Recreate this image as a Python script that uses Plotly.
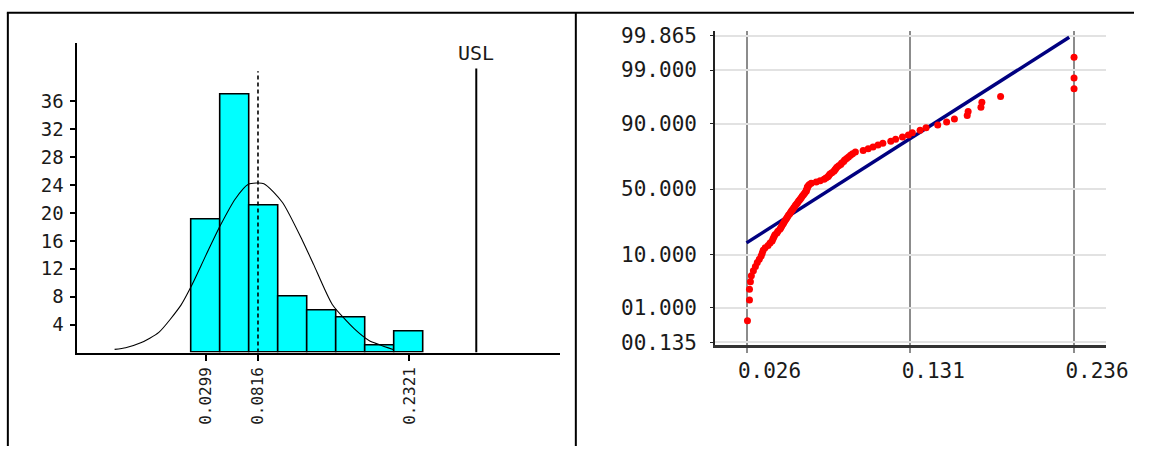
import plotly.graph_objects as go
from statistics import NormalDist

# ---------------- data ----------------
hist_centers = [0.0299, 0.0588, 0.0877, 0.1166, 0.1455, 0.1743, 0.2032, 0.2321]
hist_counts = [19, 37, 21, 8, 6, 5, 1, 3]
bin_width = 0.02889
mean_value = 0.0816
usl_value = 0.2987
hist_tick_vals = [0.0299, 0.0816, 0.2321]
hist_tick_text = ["0.0299", "0.0816", "0.2321"]
hist_y_ticks = [4, 8, 12, 16, 20, 24, 28, 32, 36]

curve_x = [-0.061, -0.050, -0.035, -0.017, 0.005, 0.0156, 0.030, 0.0445, 0.059,
           0.072, 0.0875, 0.106, 0.126, 0.137, 0.1555, 0.1775, 0.192, 0.216]
curve_y = [0.46, 0.7, 1.4, 2.9, 6.8, 9.6, 14.0, 18.3, 22.0,
           24.1, 24.2, 21.5, 16.0, 12.6, 6.9, 3.4, 1.75, 0.46]

sample_values = [
    0.0266, 0.0279, 0.0279, 0.0285, 0.0291, 0.0304, 0.0317, 0.0329, 0.0342, 0.0354,
    0.0361, 0.0367, 0.0379, 0.0398, 0.0411, 0.0424, 0.0430, 0.0436, 0.0442, 0.0455,
    0.0461, 0.0474, 0.0480, 0.0486, 0.0493, 0.0499, 0.0505, 0.0512, 0.0518, 0.0524,
    0.0530, 0.0537, 0.0543, 0.0549, 0.0556, 0.0562, 0.0568, 0.0574, 0.0581, 0.0587,
    0.0593, 0.0600, 0.0606, 0.0612, 0.0618, 0.0625, 0.0631, 0.0637, 0.0644, 0.0644,
    0.0650, 0.0650, 0.0656, 0.0663, 0.0675, 0.0707, 0.0732, 0.0757, 0.0769, 0.0782,
    0.0788, 0.0795, 0.0807, 0.0820, 0.0826, 0.0832, 0.0839, 0.0851, 0.0864, 0.0870,
    0.0883, 0.0889, 0.0902, 0.0914, 0.0927, 0.0940, 0.0958, 0.1008, 0.1040, 0.1071,
    0.1103, 0.1134, 0.1185, 0.1216, 0.1260, 0.1298, 0.1323, 0.1373, 0.1411, 0.1486,
    0.1543, 0.1593, 0.1675, 0.1681, 0.1763, 0.1769, 0.1889, 0.2360, 0.2360, 0.2360,
]
fit_x = [0.026, 0.2329]
fit_pct = [14.6, 99.85]
prob_tick_pct = [0.135, 1.0, 10.0, 50.0, 90.0, 99.0, 99.865]
prob_tick_text = ["00.135", "01.000", "10.000", "50.000", "90.000", "99.000", "99.865"]
prob_x_ticks = [0.026, 0.131, 0.236]
prob_x_text = ["0.026", "0.131", "0.236"]

# ---------------- derived (probability scale) ----------------
nd = NormalDist()
n = len(sample_values)
sample_z = [nd.inv_cdf((i + 0.5) / n) for i in range(n)]
fit_z = [nd.inv_cdf(p / 100.0) for p in fit_pct]
prob_tick_z = [nd.inv_cdf(p / 100.0) for p in prob_tick_pct]

W, H = 1156, 456
MONO = "DejaVu Sans Mono"
TXT = "#1a1a1a"

fig = go.Figure()

# histogram bars
fig.add_trace(go.Bar(
    x=hist_centers, y=hist_counts, width=[bin_width] * len(hist_counts),
    marker=dict(color="#00ffff", line=dict(color="black", width=1.6)),
    xaxis="x", yaxis="y", hoverinfo="skip"))
# normal curve
fig.add_trace(go.Scatter(
    x=curve_x, y=curve_y, mode="lines", line=dict(color="black", width=1.1, shape="spline", smoothing=0.6),
    xaxis="x", yaxis="y", hoverinfo="skip"))
# mean dashed line
fig.add_trace(go.Scatter(
    x=[mean_value, mean_value], y=[0, 40.3], mode="lines",
    line=dict(color="black", width=1.6, dash="4px,3px"), xaxis="x", yaxis="y", hoverinfo="skip"))
# USL line
fig.add_trace(go.Scatter(
    x=[usl_value, usl_value], y=[0, 40.7], mode="lines",
    line=dict(color="black", width=2), xaxis="x", yaxis="y", hoverinfo="skip"))

# probability plot: fit line then points
fig.add_trace(go.Scatter(
    x=fit_x, y=fit_z, mode="lines", line=dict(color="#000080", width=3.5),
    xaxis="x2", yaxis="y2", hoverinfo="skip"))
fig.add_trace(go.Scatter(
    x=sample_values, y=sample_z, mode="markers",
    marker=dict(color="#ff0000", size=7, line=dict(width=0)),
    xaxis="x2", yaxis="y2", hoverinfo="skip"))

def px_x(p):
    return p / W

def px_y(p):
    return 1 - p / H

fig.update_layout(
    width=W, height=H, margin=dict(l=0, r=0, t=0, b=0),
    paper_bgcolor="white", plot_bgcolor="white", showlegend=False,
    bargap=0,
    xaxis=dict(domain=[px_x(79), px_x(571)], range=[-0.0979, 0.3821], anchor="y",
               showgrid=False, zeroline=False, showline=True, linecolor="black", linewidth=2,
               ticks="outside", ticklen=6, tickwidth=1.5, tickcolor="black",
               tickvals=hist_tick_vals, ticktext=hist_tick_text, tickangle=-90,
               tickfont=dict(family=MONO, size=16, color=TXT)),
    yaxis=dict(domain=[px_y(359), px_y(37)], range=[0, 44.4], anchor="x",
               showgrid=False, zeroline=False, showline=True, linecolor="black", linewidth=2,
               ticks="outside", ticklen=5, tickwidth=1.5, tickcolor="black",
               ticklabelstandoff=3,
               tickvals=hist_y_ticks, tickfont=dict(family=MONO, size=19, color=TXT)),
    xaxis2=dict(domain=[px_x(729), px_x(1127)], range=[0.00587, 0.2562], anchor="y2",
                showgrid=True, gridcolor="#8c8c8c", gridwidth=1.5, zeroline=False,
                showline=True, linecolor="#333333", linewidth=3,
                ticks="outside", ticklen=5, tickwidth=1.5, tickcolor="#8c8c8c",
                tickvals=prob_x_ticks, ticktext=prob_x_text, ticklabelshift=23,
                tickfont=dict(family=MONO, size=21, color=TXT)),
    yaxis2=dict(domain=[px_y(351), px_y(25)], range=[-3.05, 3.09], anchor="x2",
                showgrid=True, gridcolor="#e2e2e2", gridwidth=2, zeroline=False,
                showline=True, linecolor="#222222", linewidth=2,
                ticks="outside", ticklen=3, tickwidth=1, tickcolor="#222222",
                ticklabelstandoff=9,
                tickvals=prob_tick_z, ticktext=prob_tick_text,
                tickfont=dict(family=MONO, size=21, color=TXT)),
    annotations=[dict(x=usl_value, y=42.9, xref="x", yref="y", text="USL", showarrow=False,
                      font=dict(family=MONO, size=20, color=TXT), xanchor="center", yanchor="middle")],
    shapes=[
        dict(type="line", xref="paper", yref="paper", x0=px_x(7), x1=1, y0=px_y(6), y1=px_y(6),
             line=dict(color="black", width=2)),
        dict(type="line", xref="paper", yref="paper", x0=px_x(8), x1=px_x(8), y0=px_y(6), y1=0,
             line=dict(color="black", width=2)),
        dict(type="line", xref="paper", yref="paper", x0=px_x(587), x1=px_x(587), y0=px_y(6), y1=0,
             line=dict(color="black", width=2)),
    ],
)

fig.write_html("out.html", config={"displayModeBar": False},
               post_script="document.body.style.margin='0';document.body.style.overflow='hidden';")
